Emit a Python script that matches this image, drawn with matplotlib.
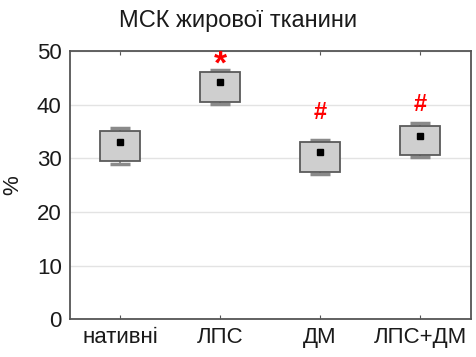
import numpy as np
import matplotlib
matplotlib.use("Agg")
import matplotlib.pyplot as plt

plt.rcParams['font.family'] = ['Liberation Sans', 'DejaVu Sans']

# Дані
groups = ['нативні', 'ЛПС', 'ДМ', 'ЛПС+ДМ']
means = [33.1, 44.2, 31.1, 34.1]
box_low = [29.5, 40.5, 27.5, 30.6]
box_high = [35.0, 46.1, 33.0, 36.1]
whisk_low = [29.0, 40.1, 27.0, 30.2]
whisk_high = [35.6, 46.5, 33.5, 36.6]
marks = ['', '*', '#', '#']
mark_y = [0, 47.3, 38.6, 40.0]

x = np.arange(len(groups))

fig = plt.figure(figsize=(4.76, 3.57), dpi=100)
ax = fig.add_axes([0.147, 0.106, 0.843, 0.751])

# коробки
ax.bar(x, np.array(box_high) - np.array(box_low), bottom=box_low, width=0.4,
       color='#cfcfcf', edgecolor='#5a5a5a', linewidth=1.3, zorder=3)
# вуса
ax.vlines(x, box_high, whisk_high, color='#777777', linewidth=1.2, zorder=2)
ax.vlines(x, whisk_low, box_low, color='#777777', linewidth=1.2, zorder=2)
ax.hlines(whisk_high, x - 0.1, x + 0.1, color='#8a8a8a', linewidth=2.5, zorder=2)
ax.hlines(whisk_low, x - 0.1, x + 0.1, color='#8a8a8a', linewidth=2.5, zorder=2)
# середні
ax.plot(x, means, 's', color='black', markersize=4.5, zorder=4)

# позначки значущості
for xi, m, my in zip(x, marks, mark_y):
    if m:
        ax.text(xi, my, m, color='#ff0000', fontsize=17 if m == '#' else 24,
                fontweight='bold', ha='center', va='center', zorder=5)

ax.set_xlim(-0.5, 3.51)
ax.set_ylim(0, 50)
ax.set_yticks([0, 10, 20, 30, 40, 50])
ax.set_xticks(x)
ax.set_xticklabels(groups)
ax.tick_params(axis='both', labelsize=16, colors='#1a1a1a', length=0, pad=6)
ax.tick_params(axis='x', direction='in', length=3, top=True, color='#555555')
ax.grid(axis='y', color='#e3e3e3', linewidth=1, zorder=0)
for sp in ax.spines.values():
    sp.set_color('#555555')
    sp.set_linewidth(1.3)

ax.set_ylabel('%', fontsize=16, color='#1a1a1a', labelpad=10)
fig.text(0.5, 0.942, 'МСК жирової тканини', ha='center', va='center',
         fontsize=17, color='#1a1a1a')

fig.savefig('out.png', dpi=100)
